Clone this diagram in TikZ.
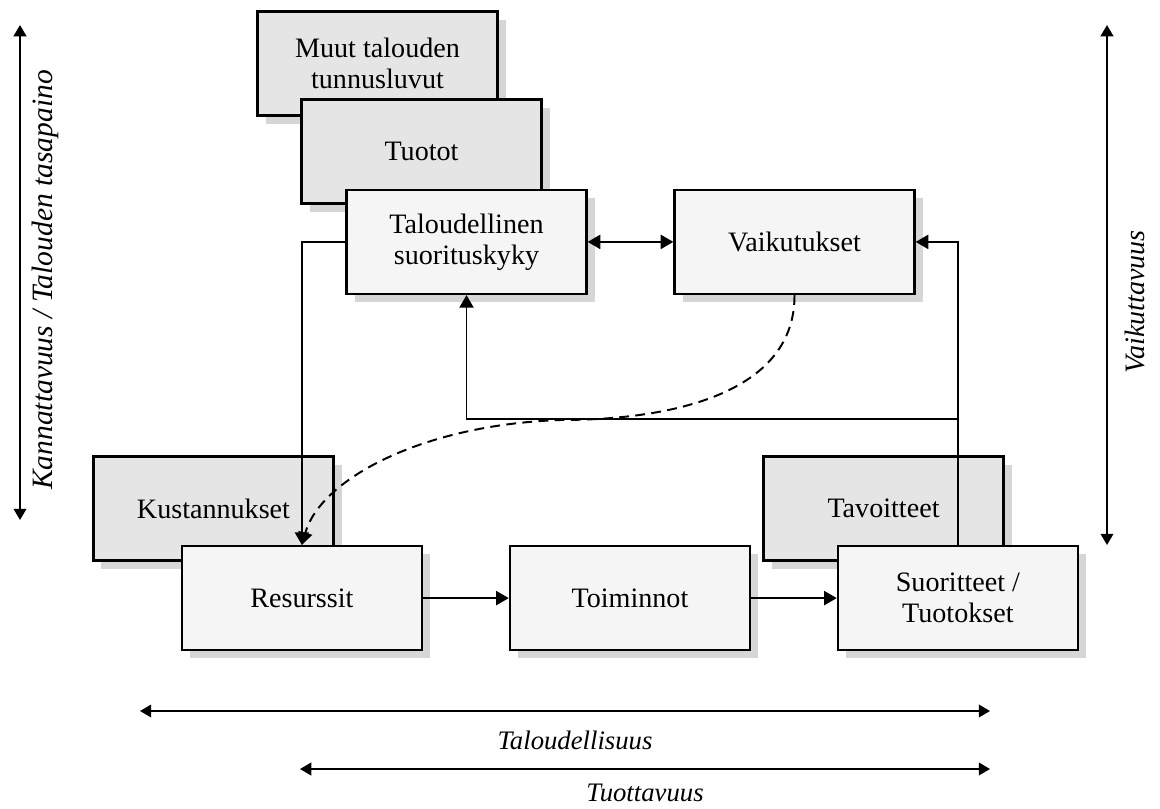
\documentclass[tikz,border=0pt]{standalone}
\usepackage{fontspec}
\setmainfont{Liberation Serif}
\usetikzlibrary{positioning,arrows.meta,shadows}

\tikzset{
  box/.style={draw, line width=1.6pt, minimum width=60mm, minimum height=26mm,
    inner sep=2pt, align=center, font=\fontsize{20}{22}\selectfont,
    drop shadow={shadow xshift=2mm, shadow yshift=-2mm, fill=black!16, opacity=1}},
  mainbox/.style={box, fill=black!4},
  backbox/.style={box, fill=black!10},
  axislabel/.style={font=\fontsize{19}{21}\selectfont\itshape},
  axis/.style={line width=1.4pt, {Triangle[length=8pt,width=9pt]}-{Triangle[length=8pt,width=9pt]}}
}

\begin{document}
\begin{tikzpicture}[x=0.25mm, y=-0.25mm, node distance=82mm, on grid,
  >={Triangle[length=9pt,width=10pt]}, line width=1.4pt]
\useasboundingbox (0,0) rectangle (1160,808);

% upper group
\node[backbox] (muut) at (377.5,63.5) {Muut talouden\\tunnusluvut};
\node[backbox] (tuotot) [below right=22mm and 11mm of muut] {Tuotot};
\node[mainbox] (talous) [below right=22.6mm and 11.25mm of tuotot] {Taloudellinen\\suorituskyky};
\node[mainbox] (vaik) [right=of talous] {Vaikutukset};

% lower group
\node[backbox] (kust) at (213.5,508.5) {Kustannukset};
\node[mainbox] (res) [below right=22.4mm and 22.1mm of kust] {Resurssit};
\node[mainbox] (toim) [right=of res] {Toiminnot};
\node[backbox] (tav) at (883.5,508.5) {Tavoitteet};
\node[mainbox] (suor) [below right=22.4mm and 18.6mm of tav] {Suoritteet /\\Tuotokset};

% connectors
\coordinate (split) at (suor.north |- 0,419);
\draw[->] (talous.west) -| (res.north);
\draw[<->] (talous) -- (vaik);
\draw[->] (suor.north) |- (vaik.east);
\draw[->] (split) -| (talous.south);
\draw[->] (res) -- (toim);
\draw[->] (toim) -- (suor);
\draw[->, dash pattern=on 7pt off 4.5pt] (vaik.south) .. controls (795,390) and (680,420) .. (560,420)
  .. controls (420,425) and (320,480) .. (res.north);

% measures
\coordinate (kan_top) at (20,25);
\coordinate (kan_bot) at (20,520);
\draw[axis] (kan_top) -- (kan_bot);
\node[axislabel, font=\fontsize{21}{23}\selectfont\itshape, rotate=90] (kan_lbl) at (45,280) {Kannattavuus / Talouden tasapaino};

\coordinate (vai_top) at (1107,25);
\coordinate (vai_bot) at (1107,545);
\draw[axis] (vai_top) -- (vai_bot);
\node[axislabel, font=\fontsize{20}{22}\selectfont\itshape, rotate=90] (vai_lbl) at (1135,302) {Vaikuttavuus};

\coordinate (tal_l) at (140,711);
\coordinate (tal_r) at (990,711);
\draw[axis] (tal_l) -- (tal_r);
\node[axislabel] (tal_lbl) at (575,740) {Taloudellisuus};

\coordinate (tuo_l) at (300,769);
\coordinate (tuo_r) at (990,769);
\draw[axis] (tuo_l) -- (tuo_r);
\node[axislabel] (tuo_lbl) at (645,793) {Tuottavuus};
\end{tikzpicture}
\end{document}
